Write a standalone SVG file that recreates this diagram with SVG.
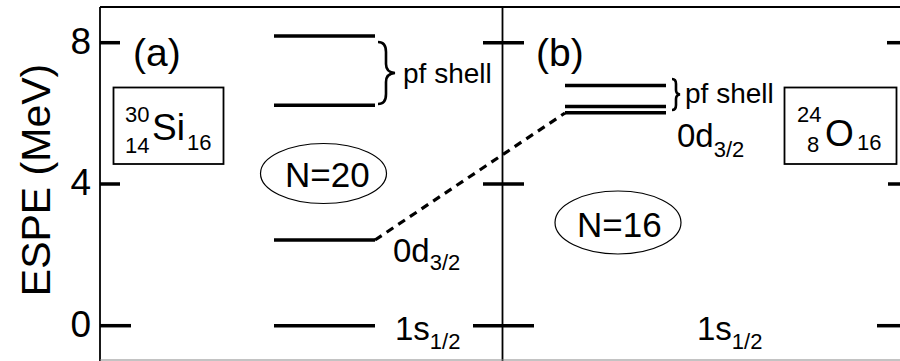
<svg xmlns="http://www.w3.org/2000/svg" width="900" height="361" viewBox="0 0 900 361">
<style>
text{font-family:"Liberation Sans",Arial,sans-serif;fill:#000}
.ax{stroke:#000;stroke-width:1.8;fill:none}
.tk{stroke:#000;stroke-width:3.5}
.lv{stroke:#000;stroke-width:3.5}
.br{stroke:#000;stroke-width:2.6;fill:none}
.big{font-size:37px}
.lab{font-size:33px}
.sub{font-size:22px}
.pf{font-size:28px}
</style>
<rect width="900" height="361" fill="#fff"/>
<g id="frame">
<line class="ax" x1="100" y1="7" x2="100" y2="361"/>
<line class="ax" x1="100" y1="7" x2="900" y2="7"/>
<line class="ax" x1="502.5" y1="7" x2="502.5" y2="361"/>
<line x1="100" y1="360" x2="900" y2="360" stroke="#888" stroke-width="1.2"/>
<line class="tk" x1="100" y1="42.7" x2="120" y2="42.7"/>
<line class="tk" x1="100" y1="184" x2="120" y2="184"/>
<line class="tk" x1="100" y1="325.7" x2="131" y2="325.7"/>
<line class="tk" x1="483" y1="42.7" x2="524" y2="42.7"/>
<line class="tk" x1="483" y1="184" x2="524" y2="184"/>
<line class="tk" x1="473" y1="325.7" x2="534" y2="325.7"/>
<line class="tk" x1="887" y1="42.7" x2="900" y2="42.7"/>
<line class="tk" x1="888" y1="184" x2="900" y2="184"/>
<line class="tk" x1="877" y1="325.7" x2="900" y2="325.7"/>
</g>
<g id="axis-labels">
<text class="big" x="91" y="53.5" text-anchor="end">8</text>
<text class="big" x="91" y="195" text-anchor="end">4</text>
<text class="big" x="91" y="337" text-anchor="end">0</text>
<text transform="translate(50,180) rotate(-90)" font-size="41" text-anchor="middle">ESPE (MeV)</text>
<text x="133" y="66" font-size="39">(a)</text>
<text x="536" y="66" font-size="39">(b)</text>
</g>
<g id="connectors">
<path d="M375,240 L565,113" stroke="#000" stroke-width="3.2" stroke-dasharray="8,6" fill="none"/>
</g>
<g id="si-levels">
<line class="lv" x1="274" y1="36" x2="375" y2="36"/>
<line class="lv" x1="274" y1="105.3" x2="375" y2="105.3"/>
<line class="lv" x1="274" y1="240" x2="375" y2="240"/>
<line class="lv" x1="274" y1="325.7" x2="375" y2="325.7"/>
<path class="br" d="M378,42 Q386,42 386,52 L386,64 Q386,72.5 395,73 Q386,73.5 386,82 L386,94 Q386,104 378,104"/>
<text class="pf" x="403" y="83">pf shell</text>
<text x="393" y="262"><tspan class="lab">0d</tspan><tspan class="sub" y="269.5">3/2</tspan></text>
<text x="395" y="340"><tspan class="lab">1s</tspan><tspan class="sub" y="348.5">1/2</tspan></text>
</g>
<g id="o-levels">
<line class="lv" x1="565" y1="85.5" x2="666" y2="85.5"/>
<line class="lv" x1="565" y1="106.5" x2="666" y2="106.5"/>
<line class="lv" x1="565" y1="112.8" x2="666" y2="112.8"/>
<path class="br" d="M672,79 Q676,79 676,84 L676,90 Q676,94 680,94.5 Q676,95 676,99 L676,105 Q676,110 672,110" stroke-width="1.6"/>
<text class="pf" x="685" y="103">pf shell</text>
<text x="677" y="147"><tspan class="lab">0d</tspan><tspan class="sub" y="157">3/2</tspan></text>
<text x="697" y="340"><tspan class="lab">1s</tspan><tspan class="sub" y="348.5">1/2</tspan></text>
</g>
<g id="si-box">
<rect x="113.5" y="87.5" width="110" height="76.5" fill="none" stroke="#000" stroke-width="1.8"/>
<text class="sub" x="125" y="122">30</text>
<text class="sub" x="125" y="153">14</text>
<text class="big" x="152" y="140">Si</text>
<text class="sub" x="187" y="150">16</text>
</g>
<g id="o-box">
<rect x="784.5" y="87.5" width="112" height="76.5" fill="none" stroke="#000" stroke-width="1.8"/>
<text class="sub" x="797" y="122">24</text>
<text class="sub" x="807" y="152">8</text>
<text class="big" x="825" y="146">O</text>
<text class="sub" x="857" y="150">16</text>
</g>
<g id="n20">
<ellipse cx="323.5" cy="173.5" rx="63" ry="30" fill="none" stroke="#000" stroke-width="1.2"/>
<text x="285" y="187" font-size="35">N=20</text>
</g>
<g id="n16">
<ellipse cx="618" cy="222.5" rx="63" ry="31.5" fill="none" stroke="#000" stroke-width="1.2"/>
<text x="577" y="237" font-size="35">N=16</text>
</g>
</svg>
